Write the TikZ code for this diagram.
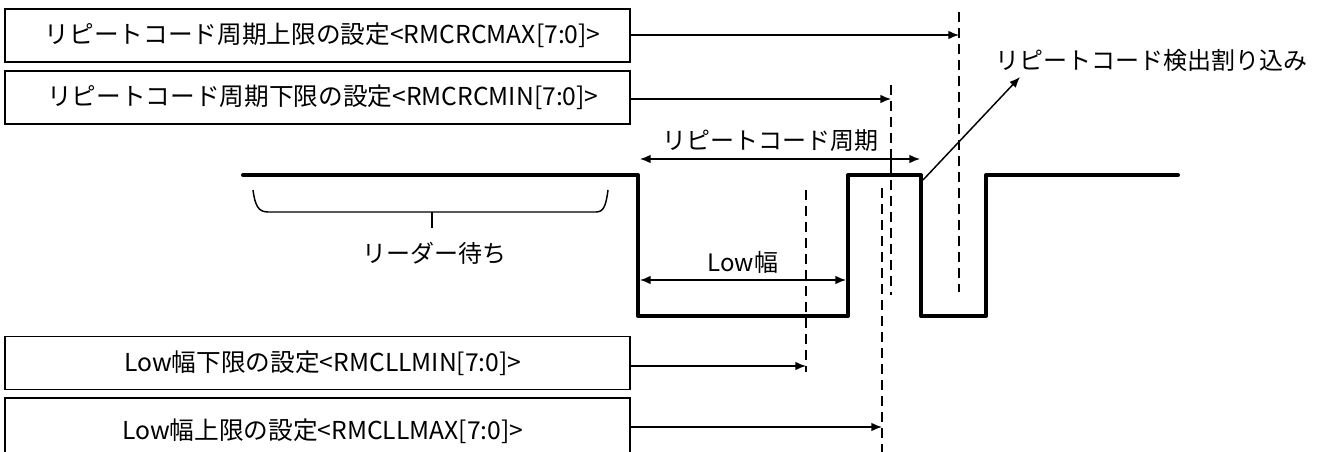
\documentclass[tikz,border=0pt]{standalone}
\usepackage{fontspec}
\setmainfont{Noto Sans CJK JP}
\usetikzlibrary{arrows.meta}
\begin{document}
\begin{tikzpicture}[x=0.75pt,y=-0.75pt,
 thin/.style={line width=1.1pt},
 sig/.style={line width=3pt, line join=round, line cap=round},
 guide/.style={line width=1.1pt, dash pattern=on 7.5pt off 4.5pt},
 arr/.style={line width=1.1pt, -{Latex[length=8pt,width=6.5pt]}},
 darr/.style={line width=1.1pt, {Latex[length=8pt,width=6.5pt]}-{Latex[length=8pt,width=6.5pt]}},
 regbox/.style={draw, line width=1.1pt, minimum width=468.75pt, minimum height=39.75pt, inner sep=0, font=\fontsize{18.5}{20}\selectfont},
 lbl/.style={inner sep=0, font=\fontsize{18}{20}\selectfont}]
\useasboundingbox (0,0) rectangle (1322,452);
% register boxes
\node[regbox] (b1) at (317.5,35.5) {\hspace*{8pt}リピートコード周期上限の設定<RMCRCMAX[7:0]>};
\node[regbox] (b2) at (317.5,97.5) {\hspace*{8pt}リピートコード周期下限の設定<RMCRCMIN[7:0]>};
\node[regbox] (b3) at (317.5,363) {\hspace*{8pt}Low幅下限の設定<RMCLLMIN[7:0]>};
\node[regbox, minimum height=48pt, text depth=0pt] (b4) at (317.5,430) {\hspace*{8pt}\raisebox{1.5pt}{Low幅上限の設定<RMCLLMAX[7:0]>}};
% targets
\coordinate (t1) at (959,35);
\coordinate (t2) at (891,99);
\coordinate (t3) at (806,366);
\coordinate (t4) at (882,427);
\draw[arr] (b1.east |- t1) -- (t1);
\draw[arr] (b2.east |- t2) -- (t2);
\draw[arr] (b3.east |- t3) -- (t3);
\draw[arr] (b4.east |- t4) -- (t4);
% guide lines
\draw[guide] (959,12) -- (959,292);
\draw[guide] (891,85) -- (891,160);
\draw[thin] (891,160) -- (891,175);
\draw[guide] (891,180) -- (891,295);
\draw[guide] (882,188) -- (882,452);
\draw[guide] (806,190) -- (806,372);
% signal
\draw[sig] (243,175) -- (638,175) -- (638,316) -- (848,316) -- (848,175) -- (921,175) -- (921,316) -- (986,316) -- (986,175) -- (1178,175);
% period
\coordinate (p1) at (640,159);
\coordinate (p2) at (920,159);
\draw[darr] (p1) -- (p2);
\node[lbl] (pl) at (770,141) {リピートコード周期};
% low width
\coordinate (l1) at (640,280);
\coordinate (l2) at (846,280);
\draw[darr] (l1) -- (l2);
\node[lbl] (ll) at (743,262) {Low幅};
% leader brace
\draw[thin] (253,190) .. controls (255,205) and (258,212) .. (268,212) -- (596,212) .. controls (604,212) and (606,205) .. (608,190);
\coordinate (bc) at (432,212);
\node[lbl] (ld) at (434,253) {リーダー待ち};
\draw[thin] (bc) -- (432,228);
% interrupt
\coordinate (i0) at (923,180);
\coordinate (i1) at (1020,77);
\draw[arr] (i0) -- (i1);
\node[lbl] (il) at (1151,60) {リピートコード検出割り込み};
\end{tikzpicture}
\end{document}
